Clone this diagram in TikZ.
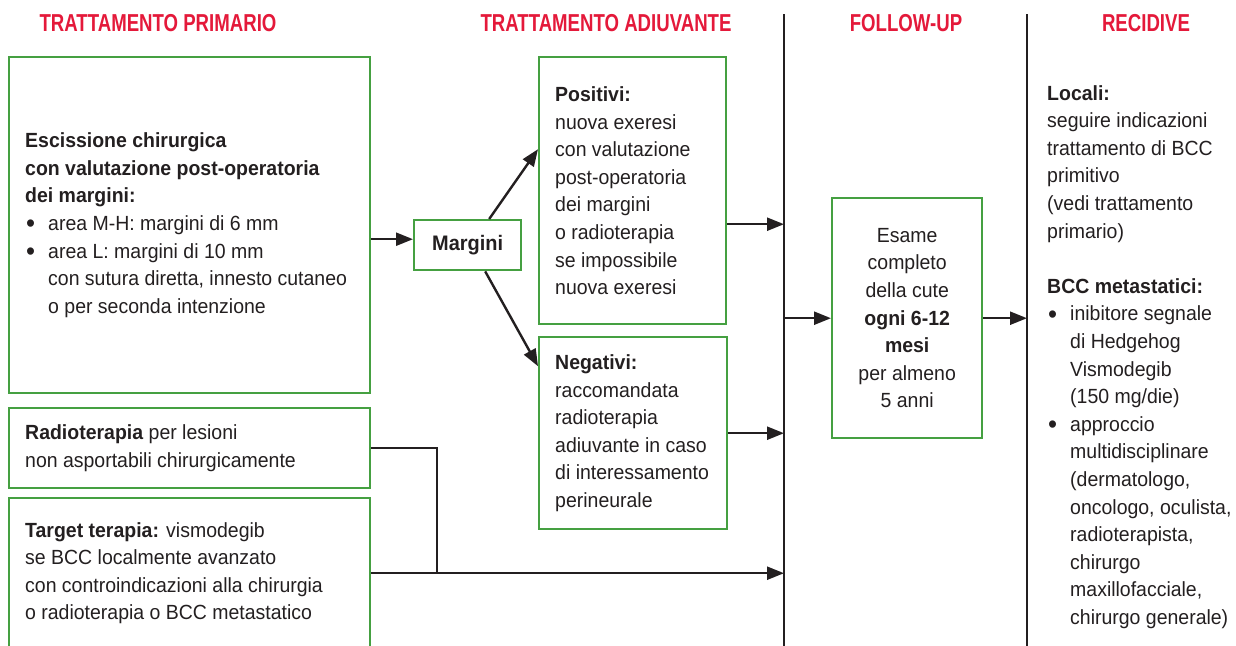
\documentclass[tikz,border=0pt]{standalone}
\usepackage{fontspec}
\setmainfont{Liberation Sans}[FakeStretch=0.95]
\newfontfamily\hfont{Liberation Sans}[FakeStretch=0.76]
\usetikzlibrary{arrows.meta}
\definecolor{bgreen}{HTML}{45A041}
\definecolor{hred}{HTML}{E4193A}
\definecolor{txt}{HTML}{231F20}
\newcommand\mybul{\makebox[23pt][l]{\hspace{1pt}\raisebox{-2.2pt}{\fontsize{27}{27}\selectfont\textbullet}}}
\newcommand\myind{\hspace*{23pt}}
\begin{document}
\begin{tikzpicture}[x=1pt,y=-1pt,
  boxst/.style={draw=bgreen, line width=2.4pt, inner sep=0pt, anchor=north west},
  body/.style={font=\fontsize{20.5}{27.6}\selectfont, text=txt, align=left, inner sep=0pt},
  head/.style={font=\hfont\bfseries\fontsize{24.5}{28}\selectfont, text=hred, inner sep=0pt},
  arr/.style={line width=2.4pt, draw=txt, -{Triangle[length=17pt,width=13pt]}},
  ln/.style={line width=2.4pt, draw=txt}]
\useasboundingbox (0,0) rectangle (1236,645);
\clip (0,0) rectangle (1236,645);

% headers
\node[head] (h1) at (158,23) {TRATTAMENTO PRIMARIO};
\node[head] (h2) at (606,23) {TRATTAMENTO ADIUVANTE};
\node[head] (h3) at (906,23) {FOLLOW-UP};
\node[head] (h4) at (1146,23) {RECIDIVE};

% vertical separators
\coordinate (v1) at (784,14);
\coordinate (v1b) at (784,650);
\coordinate (v2) at (1027,14);
\coordinate (v2b) at (1027,650);
\draw[ln] (v1) -- (v1b);
\draw[ln] (v2) -- (v2b);

% boxes
\node[boxst, minimum width=361pt, minimum height=336pt] (exc) at (8,56) {};
\node[body, anchor=west] (exct) at ([xshift=17pt]exc.west)
  {\textbf{Escissione chirurgica}\\
   \textbf{con valutazione post-operatoria}\\
   \textbf{dei margini:}\\
   \mybul area M-H: margini di 6 mm\\
   \mybul area L: margini di 10 mm\\
   \myind con sutura diretta, innesto cutaneo\\
   \myind o per seconda intenzione};

\node[boxst, minimum width=361pt, minimum height=80pt] (rad) at (8,407) {};
\node[body, anchor=west] (radt) at ([xshift=17pt]rad.west)
  {\textbf{Radioterapia} per lesioni\\
   non asportabili chirurgicamente};

\node[boxst, minimum width=361pt, minimum height=150pt] (tgt) at (8,497) {};
\node[body, anchor=west] (tgtt) at ([xshift=17pt]tgt.west)
  {\textbf{Target terapia:} vismodegib\\
   se BCC localmente avanzato\\
   con controindicazioni alla chirurgia\\
   o radioterapia o BCC metastatico};

\node[boxst, minimum width=107pt, minimum height=50pt] (marg) at (413,219) {};
\node[body, font=\bfseries\fontsize{21}{25}\selectfont] (margt) at (marg.center) {Margini};

\node[boxst, minimum width=187pt, minimum height=267pt] (pos) at (538,56) {};
\node[body, anchor=west] (post) at ([xshift=17pt]pos.west)
  {\textbf{Positivi:}\\
   nuova exeresi\\
   con valutazione\\
   post-operatoria\\
   dei margini\\
   o radioterapia\\
   se impossibile\\
   nuova exeresi};

\node[boxst, minimum width=188pt, minimum height=192pt] (neg) at (538,336) {};
\node[body, anchor=west] (negt) at ([xshift=17pt]neg.west)
  {\textbf{Negativi:}\\
   raccomandata\\
   radioterapia\\
   adiuvante in caso\\
   di interessamento\\
   perineurale};

\node[boxst, minimum width=150pt, minimum height=240pt] (esame) at (831,197) {};
\node[body, align=center] (esamet) at (esame.center)
  {Esame\\ completo\\ della cute\\ \textbf{ogni 6-12}\\ \textbf{mesi}\\ per almeno\\ 5 anni};

% recidive text
\node[body, anchor=north west] (rec) at (1047,85)
  {\textbf{Locali:}\\
   seguire indicazioni\\
   trattamento di BCC\\
   primitivo\\
   (vedi trattamento\\
   primario)\\[27.6pt]
   \textbf{BCC metastatici:}\\
   \mybul inibitore segnale\\
   \myind di Hedgehog\\
   \myind Vismodegib\\
   \myind (150 mg/die)\\
   \mybul approccio\\
   \myind multidisciplinare\\
   \myind (dermatologo,\\
   \myind oncologo, oculista,\\
   \myind radioterapista,\\
   \myind chirurgo\\
   \myind maxillofacciale,\\
   \myind chirurgo generale)};

% connectors
\coordinate (a1) at ([yshift=-14pt]exc.east);
\draw[arr] (a1) -- (a1 -| marg.west);
\draw[arr] ([xshift=21.5pt]marg.north) -- ([yshift=41.5pt]pos.west);
\draw[arr] ([xshift=17.5pt]marg.south) -- ([yshift=67pt]neg.west);
\coordinate (a2) at ([yshift=-33.5pt]pos.east);
\draw[arr] (a2) -- (a2 -| v1);
\draw[arr] (neg.east) -- (neg.east -| v1);
\coordinate (j) at (437,572);
\draw[ln] (rad.east) -| (j);
\draw[arr] (tgt.east) -- (tgt.east -| v1);
\draw[arr] (esame.west -| v1) -- (esame.west);
\draw[arr] (esame.east) -- (esame.east -| v2);
\end{tikzpicture}
\end{document}
